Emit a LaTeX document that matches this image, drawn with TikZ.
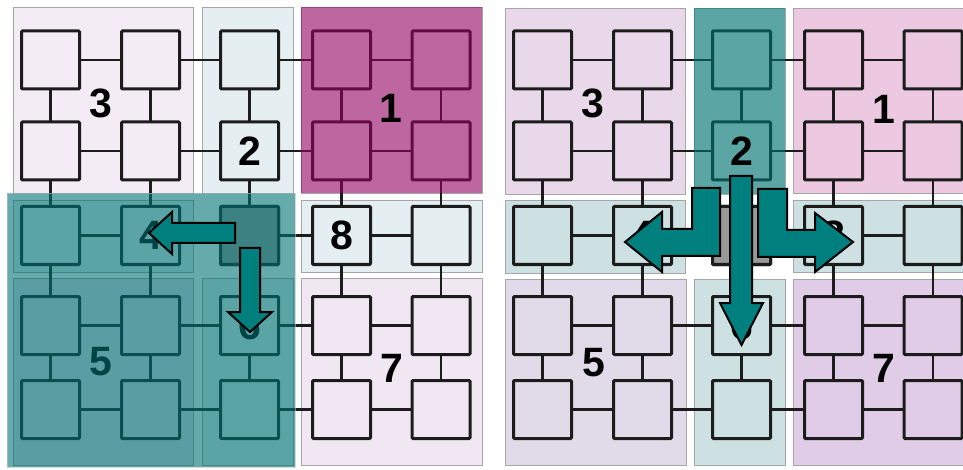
\documentclass[tikz,border=0pt]{standalone}
\usepackage{fontspec}
\setmainfont{Liberation Sans}
\definecolor{lA}{HTML}{F4ECF4}
\definecolor{lB}{HTML}{E5EEF0}
\definecolor{lC}{HTML}{F1E7F3}
\definecolor{lD}{HTML}{E2DCEA}
\definecolor{rA}{HTML}{E8D8E9}
\definecolor{rB}{HTML}{ECC8E1}
\definecolor{rC}{HTML}{CDE1E2}
\definecolor{rD}{HTML}{E1DBE9}
\definecolor{rE}{HTML}{E1CCE7}
\definecolor{rF}{HTML}{E8F0F0}
\definecolor{ovteal}{RGB}{0,115,115}
\definecolor{ovmag}{RGB}{148,0,98}
\definecolor{arrteal}{RGB}{0,127,127}
\definecolor{nodegray}{HTML}{999999}
\definecolor{lineblk}{HTML}{1C1C1C}
\begin{document}
\begin{tikzpicture}[x=1pt,y=-1pt,
  nd/.style={draw=lineblk, line width=3pt, minimum size=58pt, inner sep=0pt, outer sep=0pt, rounded corners=1pt},
  ln/.style={draw=lineblk, line width=2.6pt},
  reg/.style={draw=black!35, line width=0.8pt},
  lab/.style={font=\fontsize{41}{41}\selectfont\bfseries, inner sep=0pt, text=black},
  arr/.style={fill=arrteal, draw=black, line width=2pt}]
\useasboundingbox (0,0) rectangle (963,470);
\clip (0,0) rectangle (963,470);
\fill[white] (0,0) rectangle (963,470);
% ---------- left panel regions ----------
\filldraw[reg, fill=lA] (13,7) rectangle (193,193);
\filldraw[reg, fill=lB] (202,7) rectangle (293,193);
\filldraw[reg, fill=white] (301,7) rectangle (482,193);
\filldraw[reg, fill=lB] (13,200) rectangle (193,272);
\filldraw[reg, fill=lB] (301,200) rectangle (482,272);
\filldraw[reg, fill=lD] (13,278) rectangle (193,465);
\filldraw[reg, fill=lB] (202,278) rectangle (293,465);
\filldraw[reg, fill=lC] (301,278) rectangle (482,465);
% ---------- right panel regions ----------
\filldraw[reg, fill=rA] (505,8) rectangle (685,194);
\filldraw[reg, fill=rF] (694,8) rectangle (785,194);
\filldraw[reg, fill=rB] (793,8) rectangle (974,193);
\filldraw[reg, fill=rC] (505,200) rectangle (685,273);
\filldraw[reg, fill=rC] (793,200) rectangle (974,272);
\filldraw[reg, fill=rD] (505,279) rectangle (686,465);
\filldraw[reg, fill=rC] (694,279) rectangle (785,465);
\filldraw[reg, fill=rE] (793,279) rectangle (974,465);
% ---------- nodes ----------
\foreach \r/\y in {1/60,2/151,3/235.5,4/325.5,5/409.5}{
  \foreach \c/\x in {1/50.5,2/150.5,3/249.5,4/341.5,5/441}{
    \node[nd] (L\r\c) at (\x,\y) {};
    \node[nd] (R\r\c) at (\x+492,\y) {};
  }
}
\node[nd, fill=nodegray] (Lctr) at (L33) {};
\node[nd, fill=nodegray] (Rctr) at (R33) {};
% ---------- connectors ----------
\foreach \r in {1,...,5}{
  \foreach \c/\d in {1/2,2/3,3/4,4/5}{
    \draw[ln] (L\r\c) -- (L\r\d);
    \draw[ln] (R\r\c) -- (R\r\d);
    \draw[ln] (L\c\r) -- (L\d\r);
    \draw[ln] (R\c\r) -- (R\d\r);
  }
}
% ---------- labels under overlays ----------
\node[lab] (l4) at (150.5,235.5) {4};
\node[lab] (l5) at (101,362) {5};
\node[lab] (l6) at (249.5,325) {6};
% ---------- overlays ----------
\fill[ovmag, opacity=0.6] (301,7) rectangle (482,193);
\fill[ovteal, opacity=0.6] (7,193) rectangle (295,467);
\draw[black!25, line width=0.8pt, opacity=0.6] (7,193) rectangle (295,467);
\fill[ovteal, opacity=0.6] (694,8) rectangle (785,194);
% ---------- labels ----------
\node[lab] (l3) at (101,103) {3};
\node[lab] (l2) at (249.5,151) {2};
\node[lab] (l1) at (391,108) {1};
\node[lab] (l8) at (341.5,235.5) {8};
\node[lab] (l7) at (392,368) {7};
\node[lab] (r3) at (593,103) {3};
\node[lab] (r2) at (741.5,151) {2};
\node[lab] (r1) at (884,109) {1};
\node[lab] (r4) at (642.5,235.5) {4};
\node[lab] (r8) at (833.5,235.5) {8};
\node[lab] (r5) at (593.5,362.5) {5};
\node[lab] (r6) at (741.5,325) {6};
\node[lab] (r7) at (884,368) {7};
% ---------- arrows (left panel) ----------
\draw[arr] (235,223) -- (172,223) -- (172,212) -- (149,233) -- (172,254) -- (172,243) -- (235,243) -- cycle;
\draw[arr] (240,248) -- (260,248) -- (260,312) -- (272,312) -- (250,332) -- (228,312) -- (240,312) -- cycle;
% ---------- arrows (right panel) ----------
\draw[arr] (692,188) -- (720,188) -- (720,256) -- (662,256) -- (662,272) -- (625,242) -- (662,212) -- (662,229) -- (692,229) -- cycle;
\draw[arr] (787,189) -- (758,189) -- (758,257) -- (815,257) -- (815,272) -- (853,242) -- (815,213) -- (815,230) -- (787,230) -- cycle;
\draw[arr] (730,176) -- (752,176) -- (752,303) -- (763,303) -- (741.5,345) -- (720,303) -- (730,303) -- cycle;
\end{tikzpicture}
\end{document}
